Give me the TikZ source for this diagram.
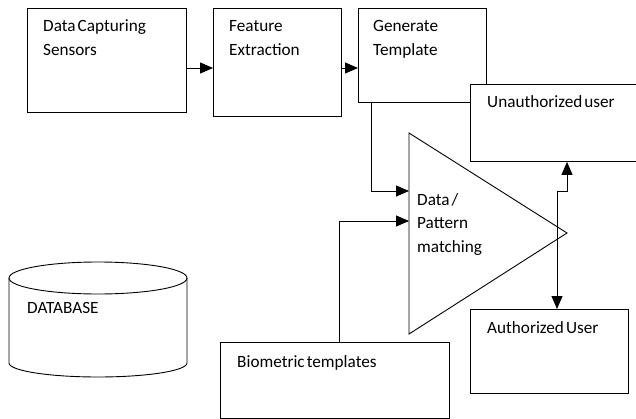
\documentclass[tikz,border=0pt]{standalone}
\usepackage{fontspec}
\setmainfont{Carlito}
\usetikzlibrary{arrows.meta,shapes.geometric}
\newcommand\mytxtfont{\fontsize{17.2}{20}\selectfont\spaceskip=0.12em plus 0.02em\relax}
\begin{document}
\begin{tikzpicture}[x=1pt,y=-1pt,
  box/.style={draw=black,line width=0.9pt,rectangle,anchor=north west,inner sep=0pt},
  txt/.style={anchor=base west,inner sep=0pt,font=\mytxtfont},
  conn/.style={line width=0.9pt,-{Triangle[length=13pt,width=11pt]}},
  dconn/.style={line width=0.9pt,{Triangle[length=13pt,width=11pt]}-{Triangle[length=13pt,width=11pt]}}]
\useasboundingbox (0,0) rectangle (636,419);
% boxes
\node[box,minimum width=159pt,minimum height=104pt] (sens) at (27,8) {};
\node[box,minimum width=128pt,minimum height=108pt] (feat) at (213,8) {};
\node[box,minimum width=128pt,minimum height=94pt] (gen) at (358,8) {};
\node[box,fill=white,minimum width=175pt,minimum height=77pt] (unauth) at (470,84) {};
\node[box,minimum width=158pt,minimum height=84pt] (auth) at (470,309) {};
\node[box,minimum width=229pt,minimum height=76pt] (bio) at (220,342) {};
% texts
\node[txt] (t1a) at (43,32) {Data Capturing};
\node[txt] (t1b) at (43,56) {Sensors};
\node[txt] (t2a) at (229,32) {Feature};
\node[txt] (t2b) at (229,56) {Extraction};
\node[txt] (t3a) at (373,32) {Generate};
\node[txt] (t3b) at (373,56) {Template};
\node[txt] (t4) at (487,108) {Unauthorized user};
\node[txt] (t5) at (487,333) {Authorized User};
\node[txt] (t6) at (237,367) {Biometric templates};
\node[txt] (t7a) at (417,206) {Data /};
\node[txt] (t7b) at (417,229) {Pattern};
\node[txt] (t7c) at (417,253) {matching};
% triangle
\coordinate (triT) at (409,133);
\coordinate (triB) at (409,334);
\coordinate (triA) at (567,233);
\draw[line width=0.9pt,line join=miter] (triT) -- (triA) -- (triB) -- cycle;
\coordinate (in1) at (409,191);
\coordinate (in2) at (409,221);
% database
\draw[line width=0.9pt] (9,278) -- (9,363) arc[start angle=180,end angle=360,x radius=89,y radius=-14] -- (187,278);
\draw[line width=0.9pt] (98,278) ellipse[x radius=89,y radius=16];
\node[txt] (db) at (27,313) {DATABASE};
% connectors
\draw[conn] (sens.east |- 0,68) -- (feat.west |- 0,68);
\draw[conn] (feat.east |- 0,68) -- (gen.west |- 0,68);
\draw[conn] (gen.south west) ++(13,0) coordinate (g1) -- (g1 |- in1) -- (in1);
\draw[conn] (bio.north west) ++(119,0) coordinate (b1) -- (b1 |- in2) -- (in2);
\coordinate (j1) at (557,191);
\coordinate (j2) at (567,191);
\draw[dconn] (auth.north west -| j1) -- (j1) -- (j2) -- (unauth.south west -| j2);
\end{tikzpicture}
\end{document}
